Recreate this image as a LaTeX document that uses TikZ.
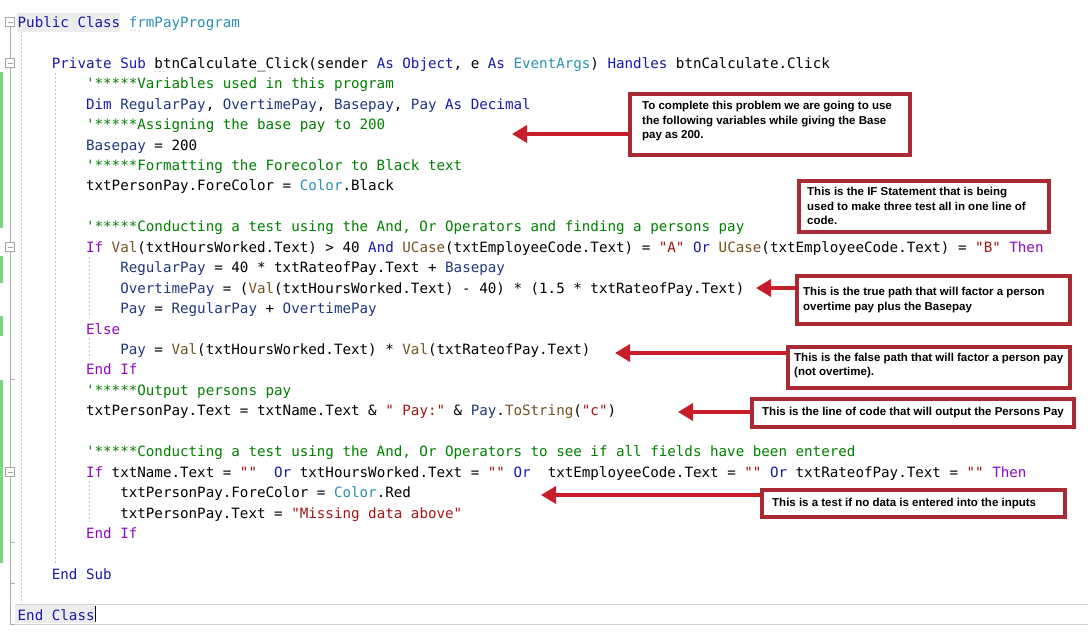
\documentclass[tikz,border=0pt]{standalone}
\usepackage{fontspec}
\setmonofont{DejaVu Sans Mono}
\newfontfamily\notefont{Liberation Sans}
\usetikzlibrary{arrows.meta}

\definecolor{vbkey}{RGB}{25,25,170}
\definecolor{vbctl}{RGB}{143,8,196}
\definecolor{vbtype}{RGB}{43,145,175}
\definecolor{vbcmt}{RGB}{0,128,0}
\definecolor{vbstr}{RGB}{163,21,21}
\definecolor{vbfnc}{RGB}{116,83,31}
\definecolor{vbloc}{RGB}{31,55,127}
\definecolor{boxred}{RGB}{170,42,52}
\definecolor{arrowred}{RGB}{200,30,42}
\definecolor{changebar}{RGB}{120,215,120}

\newcommand\kwd[1]{\textcolor{vbkey}{#1}}
\newcommand\ctl[1]{\textcolor{vbctl}{#1}}
\newcommand\typ[1]{\textcolor{vbtype}{#1}}
\newcommand\cmt[1]{\textcolor{vbcmt}{#1}}
\newcommand\lit[1]{\textcolor{vbstr}{#1}}
\newcommand\fnc[1]{\textcolor{vbfnc}{#1}}
\newcommand\loc[1]{\textcolor{vbloc}{#1}}

\begin{document}
\begin{tikzpicture}[x=1pt, y=-1pt,
    code/.style={anchor=base west, inner sep=0pt, font=\ttfamily\fontsize{14.2}{17}\selectfont},
    notebox/.style={draw=boxred, line width=3.6pt, fill=white, anchor=north west, inner sep=0pt},
    notetext/.style={anchor=west, inner sep=0pt, align=left, font=\notefont\bfseries\fontsize{11.5}{14.5}\selectfont},
    callout/.style={draw=arrowred, line width=3.6pt, -{Triangle[length=15pt,width=17pt]}, fill=arrowred},
    fold/.style={draw=gray!70, fill=white, minimum size=9pt, inner sep=0pt, line width=0.6pt},
    guide/.style={gray!45, line width=0.7pt, dash pattern=on 2pt off 2pt}]

        \fill[white] (0,0) rectangle (1088,634);
        \useasboundingbox (0,0) rectangle (1088,634);

        % editor margin
        \fill[changebar] (0,72) rectangle (3,228);
        \fill[changebar] (0,256) rectangle (3,283);
        \fill[changebar] (0,316) rectangle (3,336);
        \fill[changebar] (0,380) rectangle (3,563);

        \draw[gray!65, line width=0.8pt] (10,27) -- (10,624) -- (15,624);
        \foreach \ty in {379,542,583}
            \draw[gray!65, line width=0.8pt] (10,\ty) -- (15,\ty);
        \foreach \k/\yc in {a/22, b/63, c/247, d/472} {
            \node[fold] (fold\k) at (10,\yc) {};
            \draw[gray!70, line width=0.8pt] (fold\k.center) ++(-2.5,0) -- ++(5,0);
        }

        \draw[guide] (21,31) -- (21,603);
        \draw[guide] (55,73) -- (55,563);
        \draw[guide] (89.5,257) -- (89.5,318);
        \draw[guide] (89.5,338) -- (89.5,359);
        \draw[guide] (89.5,481) -- (89.5,522);

        % matching keywords and current line
        \fill[gray!15] (17,13) rectangle (120,32);
        \draw[gray!35, line width=0.8pt] (15,604) -- (1088,604);
        \draw[gray!35, line width=0.8pt] (15,624) -- (1088,624);
        \fill[gray!15] (15,605) rectangle (95,623);

        % code
        \node[code] (classopen) at (17.5,27.3) {\kwd{Public Class} \typ{frmPayProgram}};
        \node[code] (subopen) at (51.7,68.2) {\kwd{Private Sub} btnCalculate\_Click(sender \kwd{As Object}, e \kwd{As} \typ{EventArgs}) \kwd{Handles} btnCalculate.Click};
        \node[code] (cmtvars) at (85.9,88.65) {\cmt{'*****Variables used in this program}};
        \node[code] (dimvars) at (85.9,109.1) {\kwd{Dim} \loc{RegularPay}, \loc{OvertimePay}, \loc{Basepay}, \loc{Pay} \kwd{As Decimal}};
        \node[code] (cmtbase) at (85.9,129.55) {\cmt{'*****Assigning the base pay to 200}};
        \node[code] (setbase) at (85.9,150) {\loc{Basepay} = 200};
        \node[code] (cmtcolor) at (85.9,170.45) {\cmt{'*****Formatting the Forecolor to Black text}};
        \node[code] (setcolor) at (85.9,190.9) {txtPersonPay.ForeColor = \typ{Color}.Black};

        \node[code] (cmttest) at (85.9,231.8) {\cmt{'*****Conducting a test using the And, Or Operators and finding a persons pay}};
        \node[code] (iftest) at (85.9,252.25) {\ctl{If} \fnc{Val}(txtHoursWorked.Text) > 40 \kwd{And} \fnc{UCase}(txtEmployeeCode.Text) = \lit{"A"} \kwd{Or} \fnc{UCase}(txtEmployeeCode.Text) = \lit{"B"} \ctl{Then}};
        \node[code] (regpay) at (120.1,272.7) {\loc{RegularPay} = 40 * txtRateofPay.Text + \loc{Basepay}};
        \node[code] (otpay) at (120.1,293.15) {\loc{OvertimePay} = (\fnc{Val}(txtHoursWorked.Text) - 40) * (1.5 * txtRateofPay.Text)};
        \node[code] (sumpay) at (120.1,313.6) {\loc{Pay} = \loc{RegularPay} + \loc{OvertimePay}};
        \node[code] (elseline) at (85.9,334.05) {\ctl{Else}};
        \node[code] (plainpay) at (120.1,354.5) {\loc{Pay} = \fnc{Val}(txtHoursWorked.Text) * \fnc{Val}(txtRateofPay.Text)};
        \node[code] (endifa) at (85.9,374.95) {\ctl{End If}};
        \node[code] (cmtout) at (85.9,395.4) {\cmt{'*****Output persons pay}};
        \node[code] (outline) at (85.9,415.85) {txtPersonPay.Text = txtName.Text \& \lit{" Pay:"} \& \loc{Pay}.\fnc{ToString}(\lit{"c"})};

        \node[code] (cmtcheck) at (85.9,456.75) {\cmt{'*****Conducting a test using the And, Or Operators to see if all fields have been entered}};
        \node[code] (ifcheck) at (85.9,477.2) {\ctl{If} txtName.Text = \lit{""}~~\kwd{Or} txtHoursWorked.Text = \lit{""} \kwd{Or}~~txtEmployeeCode.Text = \lit{""} \kwd{Or} txtRateofPay.Text = \lit{""} \ctl{Then}};
        \node[code] (setred) at (120.1,497.65) {txtPersonPay.ForeColor = \typ{Color}.Red};
        \node[code] (setmsg) at (120.1,518.1) {txtPersonPay.Text = \lit{"Missing data above"}};
        \node[code] (endifb) at (85.9,538.55) {\ctl{End If}};

        \node[code] (endsub) at (51.7,579.45) {\kwd{End Sub}};
        \node[code] (classclose) at (17.5,620.35) {\kwd{End Class}};
        \draw[black, line width=1pt] (95.5,606) -- (95.5,622);

        % hint dots
        \foreach \dx in {131,135,139}
            \fill[gray!70] (\dx,30.5) circle (0.7pt);
        \foreach \dx in {156,160,164}
            \fill[gray!70] (\dx,71.5) circle (0.7pt);

        % notes
        \node[notebox, minimum width=280pt, minimum height=61pt] (note1) at (628,92) {};
        \node[notetext, xshift=14pt, yshift=3pt] (text1) at (note1.west) {To complete this problem we are going to use\\the following variables while giving the Base\\pay as 200.};
        \node[notebox, minimum width=250pt, minimum height=51pt] (note2) at (797,179) {};
        \node[notetext, xshift=10pt] (text2) at (note2.west) {This is the IF Statement that is being\\used to make three test all in one line of\\code.};
        \node[notebox, minimum width=273pt, minimum height=48pt] (note3) at (795,274) {};
        \node[notetext, xshift=8pt] (text3) at (note3.west) {This is the true path that will factor a person\\overtime pay plus the Basepay};
        \node[notebox, minimum width=282pt, minimum height=41pt] (note4) at (786,345) {};
        \node[notetext, xshift=8pt, yshift=2pt] (text4) at (note4.west) {This is the false path that will factor a person pay\\(not overtime).};
        \node[notebox, minimum width=322pt, minimum height=28pt] (note5) at (750,397) {};
        \node[notetext, xshift=12pt] (text5) at (note5.west) {This is the line of code that will output the Persons Pay};
        \node[notebox, minimum width=303pt, minimum height=27pt] (note6) at (760,488) {};
        \node[notetext, xshift=12pt] (text6) at (note6.west) {This is a test if no data is entered into the inputs};

        \coordinate (tip1) at (512,134);
        \coordinate (tip3) at (756,288);
        \coordinate (tip4) at (615,353);
        \coordinate (tip5) at (678,412);
        \coordinate (tip6) at (541,495);

        \draw[callout] (note1.west |- tip1) -- (tip1);
        \draw[callout] (note3.west |- tip3) -- (tip3);
        \draw[callout] (note4.west |- tip4) -- (tip4);
        \draw[callout] (note5.west |- tip5) -- (tip5);
        \draw[callout] (note6.west |- tip6) -- (tip6);
    \end{tikzpicture}
\end{document}
